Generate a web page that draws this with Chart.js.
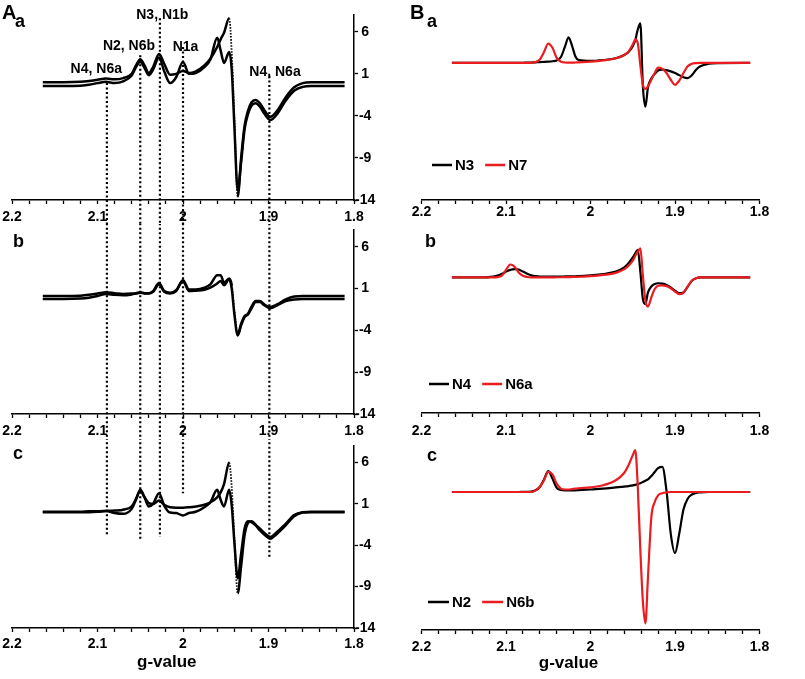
<!DOCTYPE html>
<html>
<head>
<meta charset="utf-8">
<script src="https://cdn.jsdelivr.net/npm/chart.js@4.4.1/dist/chart.umd.min.js"></script>
<style>
html,body{margin:0;padding:0;background:#fff;}
#fig{position:relative;width:805px;height:679px;overflow:hidden;background:#fff;font-family:"Liberation Sans",Arial,Helvetica,sans-serif;}
#fig canvas{position:absolute;}
.lbl{position:absolute;line-height:1;font-weight:bold;color:#000;white-space:nowrap;}
</style>
</head>
<body>
<div id="fig">
  <canvas id="Aa" width="400" height="224" style="left:0;top:0"></canvas>
  <canvas id="Ab" width="400" height="216" style="left:0;top:224px"></canvas>
  <canvas id="Ac" width="400" height="239" style="left:0;top:440px"></canvas>
  <canvas id="Ba" width="405" height="224" style="left:400px;top:0"></canvas>
  <canvas id="Bb" width="405" height="216" style="left:400px;top:224px"></canvas>
  <canvas id="Bc" width="405" height="239" style="left:400px;top:440px"></canvas>
  <div class="lbl" style="left:2px;top:2px;font-size:20px">A</div>
  <div class="lbl" style="left:15px;top:12px;font-size:18px">a</div>
  <div class="lbl" style="left:13px;top:232px;font-size:18px">b</div>
  <div class="lbl" style="left:13px;top:444px;font-size:18px">c</div>
  <div class="lbl" style="left:410px;top:2px;font-size:20px">B</div>
  <div class="lbl" style="left:427px;top:12px;font-size:18px">a</div>
  <div class="lbl" style="left:425px;top:232px;font-size:18px">b</div>
  <div class="lbl" style="left:427px;top:446px;font-size:18px">c</div>
</div>
<script>
// ---------- axis ticks ----------
const gTickVals = [1.8, 1.82, 1.84, 1.86, 1.88, 1.9, 1.92, 1.94, 1.96, 1.98, 2.0, 2.02, 2.04, 2.06, 2.08, 2.1, 2.12, 2.14, 2.16, 2.18, 2.2];
const gTickLabels = [2.2, 2.1, 2, 1.9, 1.8];
const yTickVals = [-14, -9, -4, 1, 6];

// ---------- panel A (measured spectra) ----------
const gA = [2.164, 2.14, 2.12, 2.11, 2.10, 2.09, 2.08, 2.07, 2.06, 2.055, 2.05, 2.045, 2.04, 2.035, 2.028, 2.022, 2.015, 2.008, 2.0, 1.993, 1.985, 1.975, 1.968, 1.96, 1.956, 1.952, 1.946, 1.943, 1.94, 1.936, 1.932, 1.928, 1.924, 1.92, 1.915, 1.91, 1.905, 1.898, 1.89, 1.88, 1.87, 1.86, 1.85, 1.84, 1.811];

const aaS1 = [0.0, 0.0, 0.05, 0.15, 0.3, 0.45, 0.35, 0.5, 1.0, 2.0, 2.75, 2.0, 1.1, 1.8, 3.35, 2.2, 0.9, 1.0, 1.35, 1.1, 1.3, 2.0, 2.8, 4.2, 5.1, 5.9, 7.6, 3.5, -4.0, -13.6, -9.0, -5.2, -3.4, -2.4, -2.1, -2.5, -3.3, -4.1, -3.4, -1.8, -0.6, -0.1, 0.0, 0.0, 0.0];
const aaS2 = [-0.45, -0.45, -0.4, -0.3, -0.1, 0.05, -0.1, 0.1, 0.8, 1.8, 2.45, 1.7, 0.85, 1.5, 2.95, 1.3, -0.1, 0.6, 2.4, 1.0, 1.1, 1.8, 2.7, 5.3, 3.8, 2.3, 3.6, 1.5, -5.0, -12.9, -9.5, -5.6, -3.8, -2.8, -2.5, -2.9, -3.7, -4.5, -3.8, -2.2, -1.0, -0.55, -0.45, -0.45, -0.45];

const abS1 = [0.1, 0.1, 0.15, 0.25, 0.4, 0.55, 0.45, 0.35, 0.4, 0.45, 0.55, 0.45, 0.45, 0.7, 1.65, 0.7, 0.5, 0.8, 2.0, 0.9, 0.9, 1.1, 1.5, 2.6, 2.6, 1.7, 2.2, 1.4, -1.5, -4.5, -3.2, -2.3, -2.0, -1.2, -0.5, -0.5, -0.9, -1.2, -0.9, -0.3, 0.05, 0.1, 0.1, 0.1, 0.1];
const abS2 = [-0.25, -0.25, -0.2, -0.1, 0.1, 0.35, 0.25, 0.2, 0.3, 0.4, 0.5, 0.4, 0.4, 0.6, 1.5, 0.6, 0.4, 0.7, 1.9, 0.7, 0.75, 0.85, 1.1, 1.6, 1.9, 1.4, 2.1, 1.0, -2.0, -4.6, -3.4, -2.4, -2.1, -1.4, -0.6, -0.6, -1.0, -1.35, -1.0, -0.5, -0.3, -0.25, -0.25, -0.25, -0.25];

const acS1 = [0.05, 0.05, 0.05, 0.1, 0.1, 0.15, 0.2, 0.3, 0.7, 1.6, 2.6, 1.8, 1.1, 1.0, 1.4, 0.9, 0.6, 0.55, 0.55, 0.6, 0.7, 0.9, 1.2, 1.8, 2.4, 3.4, 6.0, 3.0, -3.0, -9.8, -6.5, -2.8, -1.3, -1.1, -1.5, -2.0, -2.5, -3.0, -2.4, -1.4, -0.35, 0.0, 0.05, 0.05, 0.05];
const acS2 = [0.0, 0.0, 0.0, 0.0, 0.05, 0.15, -0.1, -0.2, 0.4, 1.5, 2.7, 1.8, 0.7, 1.0, 2.3, 0.8, -0.05, -0.1, -0.4, -0.1, 0.05, 0.6, 1.2, 2.7, 1.5, 0.7, 2.7, 0.8, -3.5, -8.0, -5.0, -2.0, -1.1, -1.2, -1.6, -2.2, -2.7, -3.2, -2.6, -1.6, -0.5, -0.05, 0.0, 0.0, 0.0];

// dotted guide lines (g-values) and their ends (panel a top, panel c bottom)
const guideG = [2.089, 2.05, 2.027, 2.0, 1.899];
const guideTopA = [-0.1, 3.2, 7.6, 4.2, 0.75];
const guideBottomC = [-2.8, -3.4, -3.0, 2.3, -5.4];
const OFF_HIGH = 40, OFF_LOW = -40;

// peak annotations in panel A-a
const noteText = ['N4, N6a', 'N2, N6b', 'N3, N1b', 'N1a', 'N4, N6a'];
const noteG = [2.1014, 2.0632, 2.0242, 1.997, 1.8924];
const noteY = [1.6, 4.35, 7.95, 4.2, 1.2];

// ---------- panel B (simulated components) ----------
const gB = [2.164, 2.13, 2.115, 2.105, 2.1, 2.095, 2.09, 2.085, 2.08, 2.075, 2.07, 2.065, 2.06, 2.055, 2.05, 2.045, 2.04, 2.035, 2.03, 2.026, 2.022, 2.018, 2.014, 2.0, 1.985, 1.97, 1.96, 1.955, 1.95, 1.947, 1.944, 1.941, 1.938, 1.935, 1.932, 1.928, 1.924, 1.92, 1.915, 1.91, 1.905, 1.9, 1.895, 1.89, 1.885, 1.88, 1.875, 1.87, 1.86, 1.85, 1.811];

const baN3 = [2.3, 2.3, 2.3, 2.3, 2.3, 2.3, 2.3, 2.3, 2.32, 2.33, 2.35, 2.37, 2.4, 2.42, 2.45, 2.5, 2.6, 3.0, 4.3, 5.35, 4.4, 3.1, 2.65, 2.55, 2.65, 2.85, 3.25, 3.6, 4.3, 5.0, 6.3, 7.0, -0.5, -2.9, -0.6, 0.45, 1.0, 1.4, 1.5, 1.45, 1.3, 1.1, 0.85, 0.6, 0.5, 0.85, 1.5, 1.9, 2.2, 2.28, 2.3];
const baN7 = [2.3, 2.3, 2.3, 2.3, 2.3, 2.3, 2.3, 2.3, 2.3, 2.3, 2.3, 2.4, 2.7, 3.6, 4.6, 4.1, 2.9, 2.45, 2.35, 2.33, 2.33, 2.35, 2.37, 2.45, 2.6, 2.85, 3.25, 3.65, 4.5, 5.1, 4.6, 2.0, -0.3, -0.8, -0.5, 0.3, 1.1, 1.75, 1.6, 1.1, 0.3, -0.3, 0.2, 1.1, 1.9, 2.2, 2.28, 2.3, 2.3, 2.3, 2.3];

const bbN4 = [2.3, 2.3, 2.4, 2.7, 3.0, 3.2, 3.3, 3.25, 3.0, 2.75, 2.55, 2.45, 2.4, 2.4, 2.4, 2.4, 2.4, 2.4, 2.42, 2.42, 2.42, 2.44, 2.45, 2.55, 2.7, 3.0, 3.5, 4.0, 4.7, 5.2, 5.6, 3.0, -0.3, -0.9, 0.5, 1.2, 1.5, 1.6, 1.55, 1.4, 1.1, 0.7, 0.4, 0.5, 1.2, 1.9, 2.2, 2.3, 2.3, 2.3, 2.3];
const bbN6a = [2.3, 2.3, 2.3, 2.5, 3.2, 3.85, 3.6, 2.9, 2.5, 2.35, 2.3, 2.3, 2.3, 2.3, 2.3, 2.3, 2.32, 2.32, 2.33, 2.34, 2.35, 2.36, 2.38, 2.45, 2.6, 2.85, 3.3, 3.7, 4.3, 4.9, 5.4, 5.8, 2.5, -0.5, -1.2, -0.1, 0.9, 1.3, 1.35, 1.25, 1.0, 0.6, 0.3, 0.45, 1.2, 1.9, 2.2, 2.3, 2.3, 2.3, 2.3];

const bcN2 = [2.5, 2.5, 2.5, 2.5, 2.5, 2.5, 2.5, 2.5, 2.52, 2.53, 2.55, 2.7, 3.1, 4.0, 5.0, 4.1, 3.0, 2.75, 2.7, 2.7, 2.7, 2.7, 2.72, 2.8, 2.9, 3.05, 3.15, 3.2, 3.3, 3.35, 3.45, 3.55, 3.7, 3.85, 4.0, 4.4, 4.9, 5.35, 5.5, 2.6, -2.5, -4.8, -2.5, 0.4, 1.7, 2.2, 2.4, 2.45, 2.5, 2.5, 2.5];
const bcN6b = [2.5, 2.5, 2.5, 2.5, 2.5, 2.5, 2.5, 2.5, 2.5, 2.5, 2.5, 2.7, 3.1, 3.9, 4.9, 4.6, 3.5, 2.9, 2.8, 2.8, 2.85, 2.9, 2.95, 3.05, 3.3, 3.9, 4.8, 5.7, 6.9, 7.5, 3.0, -4.5, -10.6, -13.2, -7.7, -0.5, 1.3, 2.1, 2.35, 2.45, 2.5, 2.5, 2.5, 2.5, 2.5, 2.5, 2.5, 2.5, 2.5, 2.5, 2.5];

// ---------- rendering ----------
const FONT = '"Liberation Sans", Arial, Helvetica, sans-serif';
Chart.defaults.font.family = FONT;
Chart.defaults.font.weight = 'bold';
Chart.defaults.font.size = 14;
Chart.defaults.color = '#000';
const RED = '#ea1c1f';

const pts = (xs, ys) => xs.map((x, i) => ({x: x, y: ys[i]}));

const extras = {
  id: 'extras',
  afterDatasetsDraw(chart, args, o) {
    const ctx = chart.ctx, xs = chart.scales.x, ys = chart.scales.y, ca = chart.chartArea;
    ctx.save();
    ctx.fillStyle = '#000';
    if (o.notes) {
      ctx.font = 'bold 14px ' + FONT;
      ctx.textAlign = 'center'; ctx.textBaseline = 'middle';
      o.notes.text.forEach((t, i) => ctx.fillText(t, xs.getPixelForValue(o.notes.g[i]), ys.getPixelForValue(o.notes.y[i])));
    }
    if (o.legend) {
      const L = o.legend;
      let x = ca.left + L.left;
      const y = ca.bottom - L.above;
      ctx.font = 'bold 15px ' + FONT;
      ctx.textAlign = 'left'; ctx.textBaseline = 'middle';
      chart.data.datasets.forEach(ds => {
        if (!ds.label) return;
        ctx.strokeStyle = ds.borderColor; ctx.lineWidth = 2.5;
        ctx.beginPath(); ctx.moveTo(x, y); ctx.lineTo(x + L.swatch, y); ctx.stroke();
        x += L.swatch + 3;
        ctx.fillStyle = '#000';
        ctx.fillText(ds.label, x, y + 1);
        x += ctx.measureText(ds.label).width + 11;
      });
    }
    if (o.title) {
      ctx.font = 'bold 17px ' + FONT;
      ctx.textAlign = 'center'; ctx.textBaseline = 'alphabetic';
      ctx.fillText(o.title.text, xs.getPixelForValue(o.title.g), ca.bottom + o.title.below);
    }
    ctx.restore();
  }
};

function xAxis(h, pad) {
  return {
    type: 'linear', reverse: true, min: 1.8, max: 2.2, position: 'bottom',
    afterBuildTicks: s => { s.ticks = gTickVals.map(v => ({value: v})); },
    afterFit: s => { s.height = h; },
    ticks: {
      autoSkip: false, maxRotation: 0, minRotation: 0, padding: pad, color: '#000',
      font: {size: 14, weight: 'bold'},
      callback: v => gTickLabels.includes(Math.round(v * 100) / 100) ? String(Math.round(v * 10) / 10) : ''
    },
    grid: {drawOnChartArea: false, drawTicks: true, tickLength: 4, tickColor: '#000', tickWidth: 1.3},
    border: {display: true, color: '#000', width: 1.5}
  };
}
const yAxisShown = {
  type: 'linear', position: 'right', min: -14, max: 8,
  afterBuildTicks: s => { s.ticks = yTickVals.map(v => ({value: v})); },
  afterFit: s => { s.width = 46; },
  ticks: {crossAlign: 'center', padding: -3, autoSkip: false, color: '#000', font: {size: 14, weight: 'bold'}},
  grid: {drawOnChartArea: false, drawTicks: true, tickLength: 4, tickColor: '#000', tickWidth: 1.3},
  border: {display: true, color: '#000', width: 1.5}
};
const yAxisHidden = {type: 'linear', display: false, min: -14, max: 8};

const steepDrop = c => {
  const dx = Math.abs(c.p1.parsed.x - c.p0.parsed.x) || 1e-9;
  return (c.p0.parsed.y - c.p1.parsed.y) / dx > 500;
};
function measured(ys, dotted) {
  const ds = {
    data: pts(gA, ys), borderColor: '#000', borderWidth: 2.5, pointRadius: 0,
    cubicInterpolationMode: 'monotone', fill: false
  };
  if (dotted) {
    ds.segment = {
      borderDash: c => steepDrop(c) ? [1.5, 1.5] : undefined,
      borderWidth: c => steepDrop(c) ? 1.8 : undefined
    };
  }
  return ds;
}
function guides(tops, bottoms) {
  return guideG.map((g, i) => ({
    data: [{x: g, y: tops[i]}, {x: g, y: bottoms[i]}],
    borderColor: '#000', borderWidth: 2.2, borderDash: [2, 2.5], pointRadius: 0,
    clip: false, tension: 0
  }));
}
function simulated(label, ys, color, order) {
  return {
    label: label, data: pts(gB, ys), borderColor: color, borderWidth: 2.2, pointRadius: 0,
    cubicInterpolationMode: 'monotone', fill: false, order: order
  };
}

function make(id, datasets, padding, xh, xpad, yAxis, extraOpts) {
  new Chart(document.getElementById(id), {
    type: 'line',
    data: {datasets: datasets},
    options: {
      responsive: false, animation: false, devicePixelRatio: 1,
      layout: {padding: padding},
      scales: {x: xAxis(xh, xpad), y: yAxis},
      plugins: {legend: {display: false}, tooltip: {enabled: false}, extras: extraOpts || {}}
    },
    plugins: [extras]
  });
}

const lowEnds = guideG.map(() => OFF_LOW);
const highEnds = guideG.map(() => OFF_HIGH);

make('Aa', [measured(aaS1, true), measured(aaS2, false)].concat(guides(guideTopA, lowEnds)),
  {left: 12, right: 0, top: 15, bottom: 0}, 24, 5, yAxisShown,
  {notes: {text: noteText, g: noteG, y: noteY}});
make('Ab', [measured(abS1, true), measured(abS2, false)].concat(guides(highEnds, lowEnds)),
  {left: 12, right: 0, top: 6, bottom: 0}, 26, 5, yAxisShown, {});
make('Ac', [measured(acS1, true), measured(acS2, false)].concat(guides(highEnds, guideBottomC)),
  {left: 12, right: 0, top: 6, bottom: 0}, 51, 4, yAxisShown,
  {title: {text: 'g-value', g: 2.019, below: 38.7}});

make('Ba', [simulated('N3', baN3, '#000', 1), simulated('N7', baN7, RED, 0)],
  {left: 21.5, right: 45.5, top: 15, bottom: 0}, 24, 0, yAxisHidden,
  {legend: {left: 10.5, above: 35, swatch: 20}});
make('Bb', [simulated('N4', bbN4, '#000', 1), simulated('N6a', bbN6a, RED, 0)],
  {left: 21.5, right: 45.5, top: 6, bottom: 0}, 27, 6, yAxisHidden,
  {legend: {left: 7.5, above: 29, swatch: 20}});
make('Bc', [simulated('N2', bcN2, '#000', 1), simulated('N6b', bcN6b, RED, 0)],
  {left: 21.5, right: 45.5, top: 6, bottom: 0}, 49, 5, yAxisHidden,
  {legend: {left: 6.5, above: 28, swatch: 21},
   title: {text: 'g-value', g: 2.026, below: 37.7}});
</script>
</body>
</html>
